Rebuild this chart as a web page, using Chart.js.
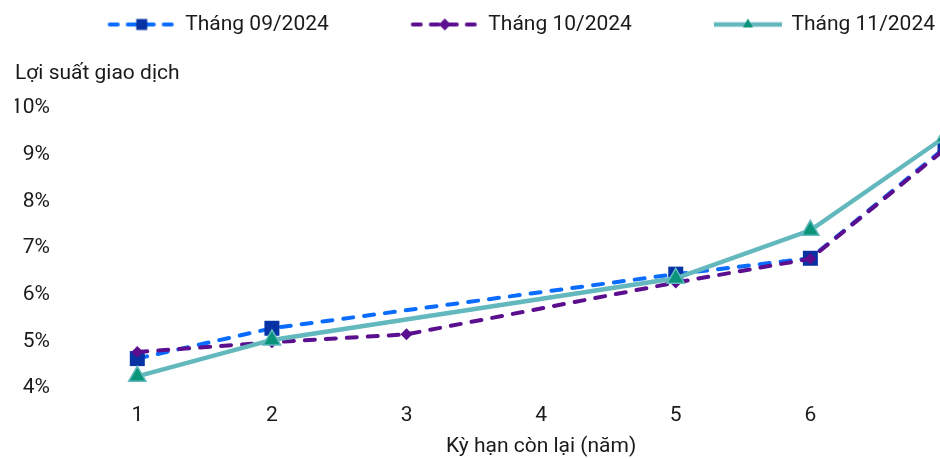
<!DOCTYPE html>
<html>
<head>
<meta charset="utf-8">
<script src="https://cdn.jsdelivr.net/npm/chart.js@4"></script>
<style>
  html, body { margin: 0; padding: 0; background: #fff; overflow: hidden; }
  #wrap { width: 940px; height: 459px; position: relative; }
</style>
</head>
<body>
<div id="wrap"><canvas id="chart"></canvas></div>
<script>
// du lieu doc tu hinh
const kyHan = [1, 2, 3, 4, 5, 6, 7];
const xTicks = [1, 2, 3, 4, 5, 6];
const tenSeries = ["Tháng 09/2024", "Tháng 10/2024", "Tháng 11/2024"];
const thang09 = [4.63, 5.28, null, null, 6.44, 6.78, 9.15];
const thang10 = [4.77, 4.98, 5.15, null, 6.26, 6.77, 9.12];
const thang11 = [4.25, 5.03, null, null, 6.35, 7.38, 9.38];
const tenTrucX = "Kỳ hạn còn lại (năm)";

const xanh = "#0A6CFF", xanhDam = "#0632A3";
const tim = "#5B0F8E";
const ngoc = "#62B8BD", ngocDam = "#0A9479";
const chu = "#1a1a1a";
const font21 = { family: "Roboto", size: 21 };

Chart.defaults.font.family = "Roboto";

// mau chu thich : duong + diem
function veMau(kieu) {
    let c = document.createElement("canvas");
    c.width = 152;
    c.height = 24;
    let g = c.getContext("2d");
    let x0 = 81, x1 = 149, cy = 12, cx = (x0 + x1) / 2;
    g.lineCap = "round";
    g.lineWidth = 4;
    if (kieu === 0 || kieu === 1) {
        g.strokeStyle = kieu === 0 ? xanh : tim;
        g.setLineDash([8, 10]);
        g.beginPath();
        g.moveTo(x0 + 2, cy);
        g.lineTo(x1 - 2, cy);
        g.stroke();
    } else {
        g.lineCap = "butt";
        g.lineWidth = 4.5;
        g.strokeStyle = ngoc;
        g.beginPath();
        g.moveTo(x0, cy);
        g.lineTo(x1, cy);
        g.stroke();
    }
    if (kieu === 0) {
        g.fillStyle = xanhDam;
        g.fillRect(cx - 5.5, cy - 5.5, 11, 11);
    } else if (kieu === 1) {
        g.fillStyle = tim;
        g.beginPath();
        g.moveTo(cx - 6, cy);
        g.lineTo(cx, cy - 6);
        g.lineTo(cx + 6, cy);
        g.lineTo(cx, cy + 6);
        g.closePath();
        g.fill();
    } else {
        g.fillStyle = ngocDam;
        g.beginPath();
        g.moveTo(cx, cy - 6);
        g.lineTo(cx + 5, cy + 3);
        g.lineTo(cx - 5, cy + 3);
        g.closePath();
        g.fill();
    }
    return c;
}
const mauChuThich = [veMau(0), veMau(1), veMau(2)];

// ten truc x : giua khoang 0.5 -> 7.5 (nhu ban goc)
const tenTrucPlugin = {
    id: "tenTruc",
    afterDraw(chart) {
        let c = chart.ctx;
        let sx = chart.scales.x;
        c.save();
        c.font = "21px Roboto";
        c.fillStyle = chu;
        c.textAlign = "center";
        c.textBaseline = "middle";
        c.fillText(tenTrucX, sx.getPixelForValue(4), chart.height - 12);
        c.restore();
    }
};

let ctx = document.getElementById("chart").getContext("2d");
let chart = new Chart(ctx, {
    type: "line",
    plugins: [tenTrucPlugin],
    data: {
        labels: kyHan,
        datasets: [{
            label: tenSeries[0],
            data: thang09,
            borderColor: xanh,
            borderWidth: 4,
            borderDash: [10, 11],
            borderCapStyle: "round",
            pointStyle: "rect",
            pointRadius: 10.6,
            pointBackgroundColor: xanhDam,
            pointBorderColor: xanhDam,
            pointBorderWidth: 0,
            spanGaps: true,
            order: 2
        },
        {
            label: tenSeries[1],
            data: thang10,
            borderColor: tim,
            borderWidth: 4,
            borderDash: [10, 11],
            borderCapStyle: "round",
            pointStyle: "rectRot",
            pointRadius: 6,
            pointBackgroundColor: tim,
            pointBorderColor: tim,
            pointBorderWidth: 0,
            spanGaps: true,
            order: 1
        },
        {
            label: tenSeries[2],
            data: thang11,
            borderColor: ngoc,
            borderWidth: 4.5,
            pointStyle: "triangle",
            pointRadius: 10,
            pointBackgroundColor: ngocDam,
            pointBorderColor: ngoc,
            pointBorderWidth: 1.5,
            spanGaps: true,
            order: 0
        }]
    },
    options: {
        responsive: true,
        maintainAspectRatio: false,
        animation: false,
        layout: { autoPadding: false, padding: { top: 9, left: 15, right: 0, bottom: 0 } },
        elements: { line: { tension: 0 } },
        plugins: {
            tooltip: { enabled: false },
            legend: {
                position: "top",
                align: "end",
                labels: {
                    usePointStyle: true,
                    pointStyleWidth: 144,
                    padding: 5,
                    font: font21,
                    color: chu,
                    generateLabels: () => tenSeries.map((t, i) => ({
                        text: t,
                        datasetIndex: i,
                        pointStyle: mauChuThich[i],
                        fontColor: chu,
                        fillStyle: "transparent",
                        strokeStyle: "transparent",
                        lineWidth: 0,
                        hidden: false
                    }))
                }
            },
            title: {
                display: true,
                text: "Lợi suất giao dịch",
                align: "start",
                weight: 500,
                color: chu,
                font: { family: "Roboto", size: 21, weight: "normal" },
                padding: { top: 16.4, bottom: 21.4 }
            }
        },
        scales: {
            x: {
                type: "linear",
                min: 0.5,
                max: 6.963,
                afterBuildTicks: (s) => { s.ticks = xTicks.map(v => ({ value: v })); },
                afterFit: (s) => { s.height = 71; },
                grid: { display: false, drawTicks: false },
                border: { display: false },
                ticks: { padding: 15.4, font: font21, color: chu }
            },
            y: {
                min: 4,
                max: 10,
                afterFit: (s) => { s.width = 55; },
                grid: { display: false, drawTicks: false },
                border: { display: false },
                ticks: {
                    stepSize: 1,
                    padding: 20,
                    font: font21,
                    color: chu,
                    callback: (v) => v + "%"
                }
            }
        }
    }
});
</script>
</body>
</html>
